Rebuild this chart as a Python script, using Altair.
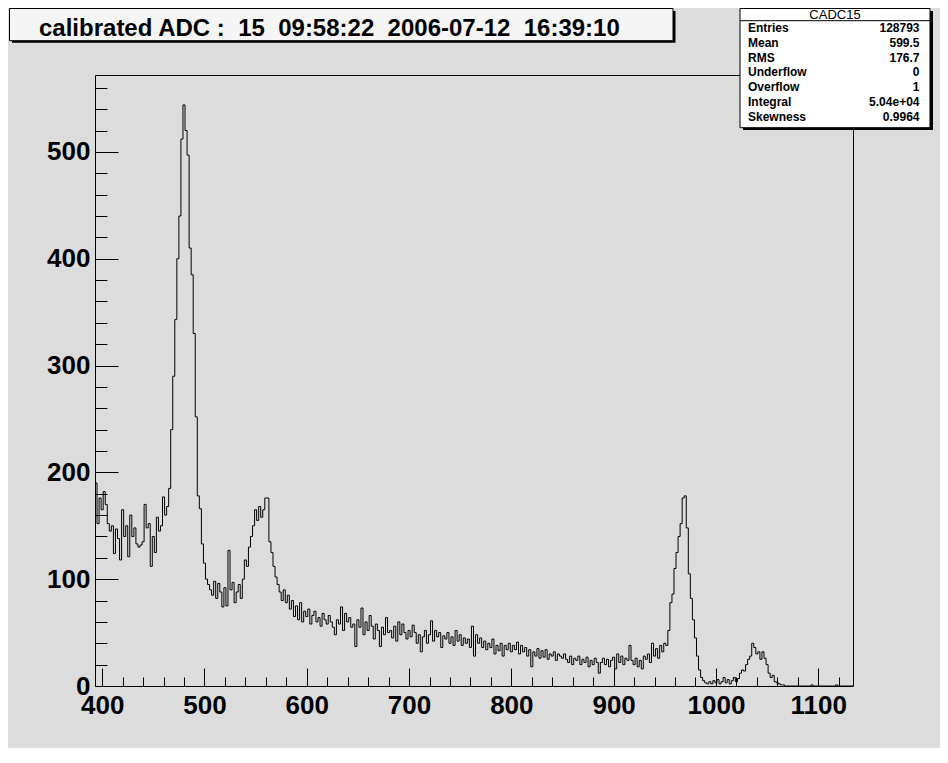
import altair as alt
import pandas as pd

# ---------------- data ----------------
bin_start = 393
bin_width = 2
counts = [
    190, 152, 176, 165, 182, 170, 152, 145, 150, 124,
    147, 138, 118, 165, 140, 150, 121, 160, 140, 148,
    133, 130, 132, 135, 170, 148, 152, 112, 140, 125,
    158, 145, 150, 177, 160, 168, 185, 240, 290, 343,
    400, 440, 512, 544, 520, 497, 410, 385, 330, 252,
    178, 166, 133, 115, 100, 95, 90, 85, 98, 82,
    96, 88, 74, 92, 75, 127, 90, 97, 78, 88,
    95, 82, 100, 118, 112, 130, 140, 150, 165, 155,
    168, 158, 165, 176, 176, 135, 125, 112, 102, 95,
    88, 80, 90, 78, 85, 72, 80, 65, 75, 62,
    78, 60, 70, 65, 72, 58, 66, 70, 60, 64,
    56, 68, 62, 58, 66, 60, 55, 48, 62, 58,
    74, 52, 68, 60, 64, 55, 58, 37, 62, 55,
    73, 48, 60, 52, 66, 56, 44, 58, 52, 37,
    55, 48, 64, 50, 52, 45, 56, 42, 60, 48,
    58, 50, 44, 52, 46, 57, 50, 40, 48, 32,
    46, 52, 40, 48, 61, 42, 52, 46, 50, 36,
    47, 44, 50, 40, 46, 38, 52, 42, 48, 38,
    45, 40, 44, 36, 56, 28, 48, 40, 45, 36,
    42, 34, 40, 36, 44, 30, 38, 33, 40, 28,
    38, 34, 40, 32, 38, 34, 41, 30, 38, 32,
    36, 28, 34, 18, 32, 28, 35, 26, 33, 27,
    34, 25, 30, 28, 32, 24, 30, 28, 26, 30,
    25, 22, 28, 20, 26, 24, 28, 20, 25, 22,
    27, 18, 24, 20, 26, 22, 12, 22, 26, 20,
    25, 18, 24, 27, 16, 30, 22, 28, 20, 26,
    24, 38, 24, 20, 26, 18, 24, 16, 28, 25,
    30, 22, 40, 28, 35, 26, 38, 32, 40, 38,
    52, 78, 86, 110, 125, 140, 152, 176, 178, 148,
    105, 82, 62, 45, 28, 15, 8, 5, 3, 2,
    4, 2, 5, 3, 6, 2, 4, 8, 3, 6,
    2, 5, 8, 4, 7, 12, 15, 14, 20, 25,
    28, 40, 36, 30, 32, 25, 32, 26, 20, 12,
    8, 10, 4, 3, 2, 1, 1, 0, 0, 0,
    0, 0, 0, 0, 0, 0, 0, 0, 0, 0,
    1, 0, 0, 0, 0, 0, 0, 0, 0, 0,
    0, 0, 1, 0, 0, 0, 0, 0, 0, 0, 0,
]
x_range = [393, 1134]
y_range = [0, 572]
x_major = [400, 500, 600, 700, 800, 900, 1000, 1100]
x_minor = [420, 440, 460, 480, 520, 540, 560, 580, 620, 640, 660, 680,
           720, 740, 760, 780, 820, 840, 860, 880, 920, 940, 960, 980,
           1020, 1040, 1060, 1080, 1120]
y_major = [0, 100, 200, 300, 400, 500]
y_minor = [20, 40, 60, 80, 120, 140, 160, 180, 220, 240, 260, 280,
           320, 340, 360, 380, 420, 440, 460, 480, 520, 540, 560]

title_text = "calibrated ADC :  15  09:58:22  2006-07-12  16:39:10"
stats_name = "CADC15"
stats_labels = ["Entries", "Mean", "RMS", "Underflow", "Overflow", "Integral", "Skewness"]
stats_values = ["128793", "599.5", "176.7", "0", "1", "5.04e+04", "0.9964"]

# ---------------- table ----------------
edges = [bin_start + bin_width * i for i in range(len(counts) + 1)]
df = pd.DataFrame({"x": edges, "count": counts + [counts[-1]]})
deco = pd.DataFrame({"k": [0]})

W, H = 758, 611
FONT = "Liberation Sans"
BG = "#dcdcdc"

xscale = alt.Scale(domain=x_range, nice=False, zero=False)
yscale = alt.Scale(domain=y_range, nice=False, zero=False)

hist = alt.Chart(df).mark_line(
    interpolate="step-after", color="black", strokeWidth=1, clip=True
).encode(
    x=alt.X("x:Q", scale=xscale, axis=alt.Axis(
        orient="bottom", values=x_major, ticks=False, tickSize=0, domain=False,
        grid=False, title=None, format="d", labelFont=FONT, labelFontWeight="bold",
        labelFontSize=26, labelColor="black", labelPadding=6,
        labelFlush=False, labelOverlap=False)),
    y=alt.Y("count:Q", scale=yscale, axis=alt.Axis(
        orient="left", values=y_major, ticks=False, tickSize=0, domain=False,
        grid=False, title=None, format="d", labelFont=FONT, labelFontWeight="bold",
        labelFontSize=26, labelColor="black", labelPadding=5,
        labelFlush=False, labelOverlap=False)),
)


def tick_layer(xvals, yvals, xlen, ylen):
    return alt.Chart(df).mark_point(opacity=0).encode(
        x=alt.X("x:Q", scale=xscale, axis=alt.Axis(
            orient="top", offset=-H, values=xvals, labels=False, domain=False,
            grid=False, title=None, tickSize=xlen, tickColor="black", tickWidth=1)),
        y=alt.Y("count:Q", scale=yscale, axis=alt.Axis(
            orient="right", offset=-W, values=yvals, labels=False, domain=False,
            grid=False, title=None, tickSize=ylen, tickColor="black", tickWidth=1)),
    )


major = tick_layer(x_major, y_major, 18, 23)
minor = tick_layer(x_minor, y_minor, 9, 12)


def rect(x1, x2, y1, y2, **kw):
    return alt.Chart(deco).mark_rect(**kw).encode(
        x=alt.value(x1), x2=alt.value(x2), y=alt.value(y1), y2=alt.value(y2))


def text(s, x, y, **kw):
    return alt.Chart(deco).mark_text(text=s, font=FONT, color="black", **kw).encode(
        x=alt.value(x), y=alt.value(y))


layers = [hist, major, minor]

# title box (ROOT-style pave with shadow); SVG whitespace collapses, keep double spaces
shown_title = title_text.replace("  ", "\u00a0\u00a0")
layers.append(rect(-83, 580.5, -64, -32.3, color="black"))
layers.append(rect(-85.5, 578, -66.5, -34.3, fill="#f5f5f5", stroke="black", strokeWidth=1))
layers.append(text(shown_title, -56, -39, fontSize=24, fontWeight="bold",
                   align="left", baseline="alphabetic"))

# statistics box
layers.append(rect(648, 838, -64, 55, color="black"))
layers.append(rect(645, 835, -66.5, 52.7, fill="white", stroke="black", strokeWidth=1))
layers.append(alt.Chart(deco).mark_rule(color="black", strokeWidth=1).encode(
    x=alt.value(645), x2=alt.value(835), y=alt.value(-54.3)))
layers.append(text(stats_name, 740, -60.3, fontSize=13, align="center", baseline="middle"))
for i, (lab, val) in enumerate(zip(stats_labels, stats_values)):
    yy = -47 + 14.83 * i
    layers.append(text(lab, 653, yy, fontSize=12, fontWeight="bold", align="left", baseline="middle"))
    layers.append(text(val, 824.5, yy, fontSize=12, fontWeight="bold", align="right", baseline="middle"))

chart = alt.layer(*layers).resolve_axis(
    x="independent", y="independent"
).properties(
    width=W, height=H,
    autosize=alt.AutoSizeParams(type="none"),
    padding={"left": 87, "top": 67, "right": 87, "bottom": 62},
).configure(
    background=BG,
).configure_view(
    stroke="black", strokeWidth=1, fill=BG,
)

chart.save("out.html", embed_options={"renderer": "svg", "actions": False})
